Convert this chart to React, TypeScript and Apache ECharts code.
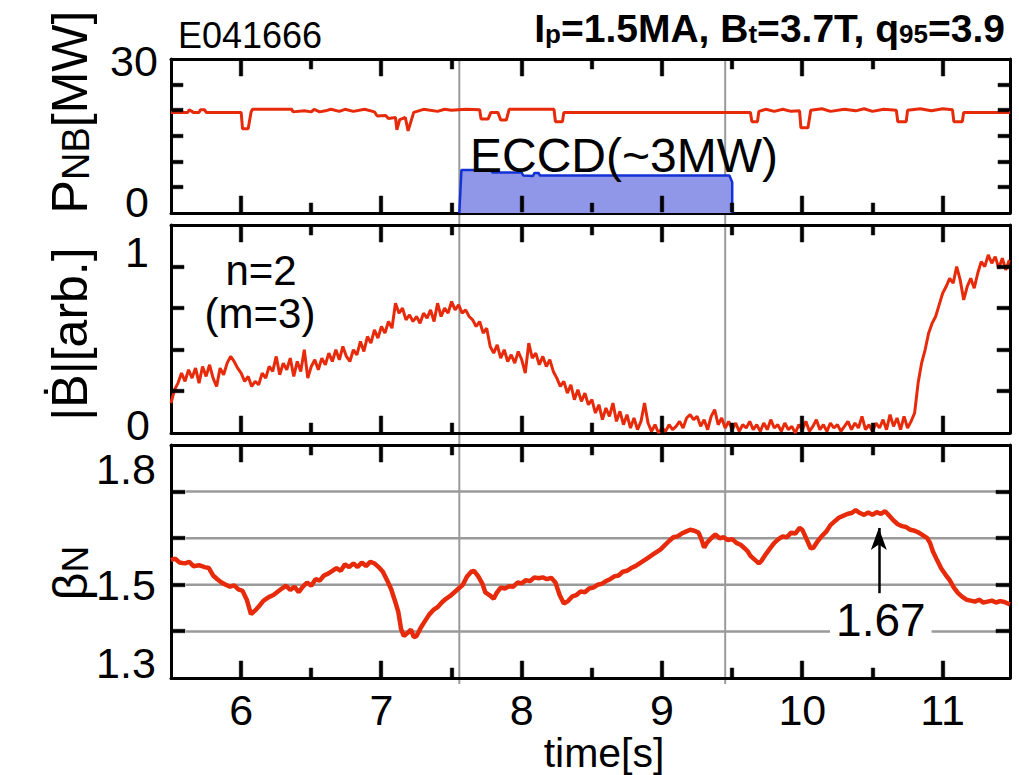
import React, { useEffect, useRef } from 'react';
import * as echarts from 'echarts';

const FONT = '"Liberation Sans", Arial, Helvetica, sans-serif';
const RED = '#e62a0a';
const BLUE = '#1232d6';
const FILL = '#9197e8';
const GRAY = '#9a9a9a';

// ---------- axes ----------
const xRange = [5.5, 11.48];
const xMajorTicks = [6, 7, 8, 9, 10, 11];
const xMinorTicks = [6.5, 7.5, 8.5, 9.5, 10.5];
const xTickLabels = ['6', '7', '8', '9', '10', '11'];
const eccdWindow = [7.555, 9.45];

const pnbRange = { min: 0, max: 30, interval: 5 };
const bdotRange = { min: 0, max: 1.25, interval: 0.25 };
const betaRange = { min: 1.3, max: 1.8, interval: 0.1 };
const pnbTicks = [5, 10, 15, 20, 25];
const bdotTicks = [0.25, 0.5, 0.75, 1.0];
const betaTicks = [1.4, 1.5, 1.6, 1.7];
const pnbTickLabels = [30, 0];
const bdotTickLabels = [1, 0];
const betaTickLabels = [1.8, 1.5, 1.3];
const betaGridLines = [1.4, 1.5, 1.6, 1.7];

// ---------- data ----------
const pnb: [number, number][] = [
  [5.50, 19.6], [5.62, 19.6], [5.63, 20.1], [5.66, 19.6], [5.70, 19.6], [5.71, 20.1], [5.74, 20.1], [5.75, 19.6],
  [6.00, 19.6], [6.01, 16.4], [6.05, 16.4], [6.07, 19.6], [6.08, 20.2], [6.36, 20.2], [6.37, 19.7], [6.45, 19.9],
  [6.50, 19.7], [6.52, 20.2], [6.56, 19.7], [6.60, 19.9], [6.64, 20.2], [6.70, 19.8], [6.74, 20.2], [6.80, 19.8],
  [6.88, 20.2], [6.95, 19.7], [6.97, 18.9], [7.03, 19.0], [7.05, 18.4], [7.10, 18.6], [7.11, 16.2], [7.13, 18.2],
  [7.17, 18.6], [7.19, 16.0], [7.21, 17.8], [7.23, 19.6], [7.30, 20.2], [7.40, 19.8], [7.45, 20.2], [7.50, 20.0],
  [7.60, 20.2], [7.70, 20.1], [7.71, 18.3], [7.76, 18.3], [7.78, 19.6], [7.83, 19.6], [7.85, 18.1], [7.89, 18.1],
  [7.91, 20.2], [8.23, 20.2], [8.24, 17.8], [8.29, 17.8], [8.30, 19.6], [9.63, 19.6], [9.64, 17.8], [9.68, 17.8],
  [9.69, 19.8], [9.74, 20.2], [9.80, 19.8], [9.86, 20.2], [9.92, 19.8], [9.98, 19.9], [9.99, 16.6], [10.04, 16.6],
  [10.06, 20.0], [10.14, 20.3], [10.20, 19.8], [10.30, 20.2], [10.38, 19.9], [10.44, 20.3], [10.50, 19.8],
  [10.58, 20.2], [10.67, 20.0], [10.68, 17.8], [10.74, 17.8], [10.75, 20.0], [10.84, 20.3], [10.92, 19.9],
  [11.00, 20.3], [11.07, 20.1], [11.08, 17.8], [11.14, 17.8], [11.15, 19.6], [11.48, 19.6],
];

const eccd: [number, number][] = [
  [7.555, 0], [7.57, 8.4], [7.78, 8.4], [7.79, 7.9], [8.00, 7.9], [8.01, 7.3], [8.08, 7.2], [8.09, 7.8],
  [8.12, 7.8], [8.13, 7.3], [9.48, 7.3], [9.50, 6.0], [9.50, 0],
];

const bdotStart = 5.5;
const bdotStep = 0.025;
const bdotValues = [
  0.18, 0.26, 0.30, 0.36, 0.31, 0.38, 0.33, 0.39, 0.30, 0.40, 0.34, 0.41, 0.33, 0.28, 0.39, 0.35, 0.42, 0.46, 0.43, 0.39,
  0.36, 0.31, 0.34, 0.28, 0.31, 0.29, 0.36, 0.33, 0.40, 0.37, 0.46, 0.35, 0.42, 0.38, 0.45, 0.34, 0.43, 0.37, 0.50, 0.33,
  0.40, 0.44, 0.38, 0.45, 0.41, 0.48, 0.43, 0.50, 0.44, 0.52, 0.46, 0.43, 0.50, 0.47, 0.55, 0.49, 0.58, 0.54, 0.62, 0.57,
  0.64, 0.60, 0.67, 0.63, 0.78, 0.72, 0.75, 0.68, 0.71, 0.67, 0.70, 0.66, 0.72, 0.69, 0.74, 0.67, 0.78, 0.70, 0.75, 0.72,
  0.79, 0.74, 0.77, 0.72, 0.74, 0.70, 0.68, 0.64, 0.67, 0.60, 0.63, 0.52, 0.48, 0.53, 0.45, 0.50, 0.43, 0.47, 0.42, 0.49,
  0.44, 0.36, 0.54, 0.45, 0.48, 0.41, 0.46, 0.40, 0.44, 0.37, 0.33, 0.28, 0.31, 0.24, 0.29, 0.20, 0.26, 0.19, 0.24, 0.17,
  0.20, 0.12, 0.17, 0.08, 0.15, 0.10, 0.18, 0.07, 0.13, 0.05, 0.11, 0.03, 0.09, 0.02, 0.07, 0.18, 0.06, 0.01, 0.05, 0.00,
  0.03, 0.01, 0.05, 0.02, 0.04, 0.07, 0.03, 0.09, 0.11, 0.08, 0.10, 0.04, 0.08, 0.02, 0.10, 0.14, 0.05, 0.09, 0.03, 0.07,
  0.02, 0.06, 0.01, 0.05, 0.03, 0.07, 0.02, 0.05, 0.01, 0.06, 0.02, 0.08, 0.03, 0.05, 0.01, 0.06, 0.02, 0.04, 0.00, 0.05,
  0.02, 0.07, 0.01, 0.04, 0.08, 0.02, 0.05, 0.01, 0.06, 0.03, 0.05, 0.01, 0.04, 0.07, 0.02, 0.06, 0.03, 0.10, 0.02, 0.05,
  0.01, 0.06, 0.03, 0.08, 0.02, 0.11, 0.04, 0.09, 0.02, 0.10, 0.03, 0.07,
  0.12, 0.30, 0.42, 0.50, 0.60, 0.66, 0.70, 0.77, 0.84, 0.88, 0.93, 0.90, 1.00, 0.92, 0.80, 0.88, 0.93, 0.87, 0.96, 1.03,
  1.00, 1.07, 1.02, 1.06, 0.99, 1.05, 0.98, 1.04,
];

const beta: [number, number][] = [
  [5.50, 1.553], [5.53, 1.556], [5.56, 1.548], [5.60, 1.546], [5.63, 1.549], [5.66, 1.540], [5.70, 1.542], [5.74, 1.538],
  [5.77, 1.536], [5.80, 1.520], [5.83, 1.512], [5.86, 1.505], [5.89, 1.500], [5.92, 1.496], [5.95, 1.499], [5.98, 1.490],
  [6.01, 1.487], [6.04, 1.468], [6.07, 1.437], [6.10, 1.445], [6.13, 1.455], [6.16, 1.466], [6.20, 1.474], [6.23, 1.478],
  [6.26, 1.485], [6.29, 1.492], [6.32, 1.498], [6.35, 1.489], [6.38, 1.496], [6.41, 1.484], [6.44, 1.496], [6.47, 1.505],
  [6.50, 1.498], [6.53, 1.512], [6.56, 1.509], [6.59, 1.520], [6.62, 1.524], [6.65, 1.530], [6.68, 1.536], [6.71, 1.530],
  [6.74, 1.544], [6.77, 1.538], [6.80, 1.546], [6.83, 1.538], [6.86, 1.548], [6.89, 1.540], [6.92, 1.549], [6.95, 1.546],
  [6.98, 1.538], [7.01, 1.528], [7.04, 1.510], [7.07, 1.490], [7.10, 1.462], [7.12, 1.442], [7.14, 1.405], [7.16, 1.390],
  [7.19, 1.398], [7.21, 1.404], [7.23, 1.388], [7.25, 1.390], [7.28, 1.408], [7.31, 1.422], [7.34, 1.436], [7.37, 1.446],
  [7.40, 1.452], [7.43, 1.462], [7.46, 1.470], [7.49, 1.476], [7.52, 1.484], [7.55, 1.492], [7.58, 1.500], [7.61, 1.518],
  [7.64, 1.528], [7.66, 1.530], [7.69, 1.518], [7.72, 1.502], [7.74, 1.484], [7.77, 1.478], [7.80, 1.470], [7.82, 1.482],
  [7.85, 1.494], [7.88, 1.492], [7.91, 1.497], [7.94, 1.496], [7.97, 1.505], [8.00, 1.503], [8.03, 1.510], [8.06, 1.508],
  [8.09, 1.516], [8.12, 1.514], [8.15, 1.516], [8.18, 1.512], [8.21, 1.515], [8.24, 1.505], [8.27, 1.478], [8.30, 1.460],
  [8.33, 1.465], [8.36, 1.475], [8.39, 1.478], [8.42, 1.486], [8.45, 1.484], [8.48, 1.492], [8.51, 1.494], [8.54, 1.500],
  [8.57, 1.502], [8.60, 1.508], [8.63, 1.512], [8.66, 1.518], [8.69, 1.520], [8.72, 1.528], [8.75, 1.530], [8.78, 1.536],
  [8.81, 1.540], [8.84, 1.546], [8.87, 1.552], [8.90, 1.558], [8.93, 1.564], [8.96, 1.570], [8.99, 1.576], [9.02, 1.585],
  [9.05, 1.594], [9.08, 1.602], [9.11, 1.604], [9.14, 1.610], [9.17, 1.614], [9.20, 1.618], [9.23, 1.616], [9.26, 1.612],
  [9.28, 1.598], [9.30, 1.580], [9.32, 1.590], [9.35, 1.600], [9.38, 1.608], [9.41, 1.600], [9.44, 1.602], [9.47, 1.596],
  [9.50, 1.598], [9.53, 1.590], [9.56, 1.586], [9.59, 1.578], [9.61, 1.572], [9.63, 1.562], [9.66, 1.554], [9.69, 1.546],
  [9.71, 1.552], [9.74, 1.566], [9.77, 1.578], [9.80, 1.590], [9.83, 1.598], [9.86, 1.604], [9.89, 1.602], [9.92, 1.612],
  [9.95, 1.610], [9.98, 1.622], [10.00, 1.618], [10.03, 1.598], [10.06, 1.578], [10.08, 1.580], [10.11, 1.594], [10.14, 1.605],
  [10.17, 1.614], [10.20, 1.628], [10.23, 1.636], [10.26, 1.644], [10.29, 1.648], [10.32, 1.652], [10.35, 1.654], [10.38, 1.660],
  [10.41, 1.654], [10.44, 1.650], [10.47, 1.655], [10.50, 1.650], [10.53, 1.656], [10.56, 1.652], [10.59, 1.658], [10.62, 1.648],
  [10.65, 1.638], [10.68, 1.630], [10.71, 1.626], [10.74, 1.624], [10.77, 1.618], [10.80, 1.616], [10.83, 1.612], [10.86, 1.606],
  [10.89, 1.600], [10.91, 1.590], [10.93, 1.572], [10.96, 1.553], [10.99, 1.535], [11.02, 1.522], [11.05, 1.510], [11.08, 1.494],
  [11.11, 1.482], [11.14, 1.474], [11.17, 1.468], [11.20, 1.466], [11.23, 1.464], [11.26, 1.468], [11.29, 1.462], [11.32, 1.464],
  [11.35, 1.466], [11.38, 1.462], [11.41, 1.465], [11.44, 1.463], [11.48, 1.458],
];

const peakArrow = { t: 10.545, from: 1.482, to: 1.622 };
const peakLabel = '1.67';

const grids = [
  { left: 171, right: 9, top: 59, height: 154 },
  { left: 171, right: 9, top: 225, height: 208 },
  { left: 171, right: 9, top: 445, height: 233 },
];
const yRanges = [pnbRange, bdotRange, betaRange];
const yTickSets = [pnbTicks, bdotTicks, betaTicks];
const yTickLen = [12, 13, 14];
const seriesOfGrid = [0, 2, 3];

export default function App() {
  const ref = useRef<HTMLDivElement>(null);
  useEffect(() => {
    const el = ref.current!;
    const chart = echarts.init(el, null, { renderer: 'svg' });
    const xAxes: any[] = [];
    const yAxes: any[] = [];
    grids.forEach((_g, gi) => {
      const mk = (pos: string, label: boolean) => ({
        type: 'value', gridIndex: gi, position: pos, min: xRange[0], max: xRange[1],
        axisLine: { show: true, onZero: false, lineStyle: { color: '#000', width: 3 } },
        axisTick: { show: false },
        axisLabel: label
          ? {
              show: true, customValues: xMajorTicks, color: '#000', fontSize: 43, fontFamily: FONT, margin: 10,
              formatter: (v: number) => xTickLabels[xMajorTicks.indexOf(Math.round(v))] ?? '',
            }
          : { show: false },
        splitLine: { show: false },
      });
      xAxes.push(mk('bottom', gi === 2));
      xAxes.push(mk('top', false));
      const yr = yRanges[gi];
      ['left', 'right'].forEach((pos) =>
        yAxes.push({
          type: 'value', gridIndex: gi, position: pos, min: yr.min, max: yr.max, interval: yr.interval,
          axisLine: { show: true, onZero: false, lineStyle: { color: '#000', width: 3 } },
          axisTick: { show: false },
          axisLabel: { show: false },
          splitLine: { show: false },
        })
      );
    });

    const bdotData = bdotValues.map((v, i) => [bdotStart + i * bdotStep, v]);

    chart.setOption({
      animation: false,
      grid: grids,
      xAxis: xAxes,
      yAxis: yAxes,
      series: [
        {
          type: 'line', xAxisIndex: 0, yAxisIndex: 0, data: pnb, showSymbol: false, z: 3,
          lineStyle: { color: RED, width: 3 }, itemStyle: { color: RED },
        },
        {
          type: 'line', xAxisIndex: 0, yAxisIndex: 0, data: eccd, showSymbol: false, z: 2,
          lineStyle: { color: BLUE, width: 2.5 }, itemStyle: { color: BLUE },
          areaStyle: { color: FILL, opacity: 1 },
        },
        {
          type: 'line', xAxisIndex: 2, yAxisIndex: 2, data: bdotData, showSymbol: false, z: 3,
          lineStyle: { color: RED, width: 3 }, itemStyle: { color: RED },
        },
        {
          type: 'line', xAxisIndex: 4, yAxisIndex: 4, data: beta, showSymbol: false, z: 3,
          lineStyle: { color: RED, width: 4.5 }, itemStyle: { color: RED },
          markLine: {
            silent: true, animation: false, label: { show: false },
            lineStyle: { color: '#000', width: 2.5, type: 'solid' },
            symbol: ['none', 'arrow'], symbolSize: [0, 18],
            data: [[
              { coord: [peakArrow.t, peakArrow.from], symbol: 'none' },
              { coord: [peakArrow.t, peakArrow.to], symbol: 'arrow', symbolSize: [12, 22] },
            ]],
          },
        },
      ],
    });

    const p = (si: number, x: number, y: number) => chart.convertToPixel({ seriesIndex: si }, [x, y]) as number[];
    const txt = (text: string, x: number, y: number, size: number, extra: any = {}) => ({
      type: 'text', x, y, z: 100,
      style: { text, fill: '#000', fontSize: size, fontFamily: FONT, align: 'center', verticalAlign: 'middle', ...extra },
    });
    const seg = (x1: number, y1: number, x2: number, y2: number, stroke: string, w: number) => ({
      type: 'polyline', silent: true, shape: { points: [[x1, y1], [x2, y2]] }, style: { stroke, lineWidth: w, fill: null },
    });
    // one polygon per tick mark (a thin filled quadrilateral)
    const tickPoly = (x1: number, y1: number, x2: number, y2: number, w: number) => {
      const h = w / 2;
      const vertical = x1 === x2;
      const pts = vertical
        ? [[x1 - h, y1], [x1 + h, y1], [x2 + h, y2], [x2 - h, y2]]
        : [[x1, y1 - h], [x1, y1 + h], [x2, y2 + h], [x2, y2 - h]];
      return { type: 'polygon', silent: true, z: 80, shape: { points: pts }, style: { fill: '#000', stroke: '#000', lineWidth: 0.5 } };
    };

    const g: any[] = [];
    // vertical gray lines
    eccdWindow.forEach((t) => {
      const top = p(0, t, pnbRange.max);
      const bot = p(3, t, betaRange.min);
      g.push(seg(top[0], top[1], bot[0], bot[1] + 6, GRAY, 2));
    });
    // beta grid lines
    betaGridLines.forEach((v) => {
      const a = p(3, xRange[0], v);
      const b = p(3, xRange[1], v);
      g.push(seg(a[0] + 15, a[1], b[0] - 12, b[1], GRAY, 2.5));
    });
    // inside ticks on all four sides of each panel
    grids.forEach((_gr, gi) => {
      const si = seriesOfGrid[gi];
      const yr = yRanges[gi];
      const lb = p(si, xRange[0], yr.min);
      const rt = p(si, xRange[1], yr.max);
      const bottom = lb[1], top = rt[1], left = lb[0], right = rt[0];
      xMajorTicks.forEach((t) => {
        const x = Math.round(p(si, t, yr.min)[0]);
        g.push(tickPoly(x, bottom - 1, x, bottom - 17, 3.5));
        g.push(tickPoly(x, top + 1, x, top + 17, 3.5));
      });
      xMinorTicks.forEach((t) => {
        const x = Math.round(p(si, t, yr.min)[0]);
        g.push(tickPoly(x, bottom - 1, x, bottom - 10, 3.5));
        g.push(tickPoly(x, top + 1, x, top + 10, 3.5));
      });
      yTickSets[gi].forEach((v) => {
        const y = Math.round(p(si, xRange[0], v)[1]);
        g.push(tickPoly(left + 1, y, left + yTickLen[gi], y, 3.5));
        g.push(tickPoly(right - 1, y, right - yTickLen[gi], y, 3.5));
      });
    });
    // y tick labels
    const yl: [number, number, number, number][] = [
      [0, pnbTickLabels[0], 134, 2], [0, pnbTickLabels[1], 137, -11],
      [2, bdotTickLabels[0], 137, -15], [2, bdotTickLabels[1], 138, -8],
      [3, betaTickLabels[0], 126, 24], [3, betaTickLabels[1], 126, 0], [3, betaTickLabels[2], 126, -15],
    ];
    yl.forEach(([si, v, cx, dy]) => {
      const py = p(si, xRange[0], v)[1];
      g.push(txt(String(v), cx, py + dy, 43, { lineHeight: 32 }));
    });
    // x axis title
    g.push(txt('time[s]', 604, 753, 41, { lineHeight: 36 }));
    // y axis names
    const nameRich = (main: number, sub: number) => ({
      m: { fontSize: main, fontFamily: FONT, lineHeight: main, fill: '#000' },
      s: { fontSize: sub, fontFamily: FONT, lineHeight: sub * 0.65, verticalAlign: 'bottom', fill: '#000' },
    });
    g.push({ type: 'text', x: 70, y: 112, rotation: Math.PI / 2, z: 100,
      style: { text: '{m|P}{s|NB}{m|[MW]}', align: 'center', verticalAlign: 'middle', rich: nameRich(50, 38) } });
    g.push({ type: 'text', x: 70, y: 334, rotation: Math.PI / 2, z: 100,
      style: { text: '{m||Ḃ|[arb.]}', align: 'center', verticalAlign: 'middle', rich: nameRich(50, 38) } });
    g.push({ type: 'text', x: 70, y: 573, rotation: Math.PI / 2, z: 100,
      style: { text: '{m|β}{s|N}', align: 'center', verticalAlign: 'middle', rich: nameRich(48, 37) } });
    // annotations
    g.push(txt('E041666', 178, 35, 36, { align: 'left', lineHeight: 34 }));
    g.push({ type: 'text', x: 1005, y: 28, z: 100,
      style: {
        text: '{b|I}{s|p}{b|=1.5MA, B}{s|t}{b|=3.7T, q}{s|95}{b|=3.9}', align: 'right', verticalAlign: 'middle',
        rich: {
          b: { fontSize: 39, fontWeight: 'bold', fontFamily: FONT, lineHeight: 38, fill: '#000' },
          s: { fontSize: 26, fontWeight: 'bold', fontFamily: FONT, lineHeight: 22, verticalAlign: 'bottom', fill: '#000' },
        },
      } });
    g.push(txt('ECCD(~3MW)', 624, 155, 48, { lineHeight: 44 }));
    g.push(txt('n=2', 261, 270, 42, { lineHeight: 32 }));
    g.push(txt('(m=3)', 260, 313, 42, { lineHeight: 36 }));
    const lab = p(3, peakArrow.t, 1.4);
    g.push(txt(peakLabel, lab[0] + 2, 620, 46, { backgroundColor: '#fff', padding: [0, 6, 0, 6], lineHeight: 40 }));

    chart.setOption({ graphic: { elements: g } });
    return () => chart.dispose();
  }, []);
  return <div ref={ref} style={{ position: 'absolute', left: 0, top: 0, width: 1019, height: 775 }} />;
}
